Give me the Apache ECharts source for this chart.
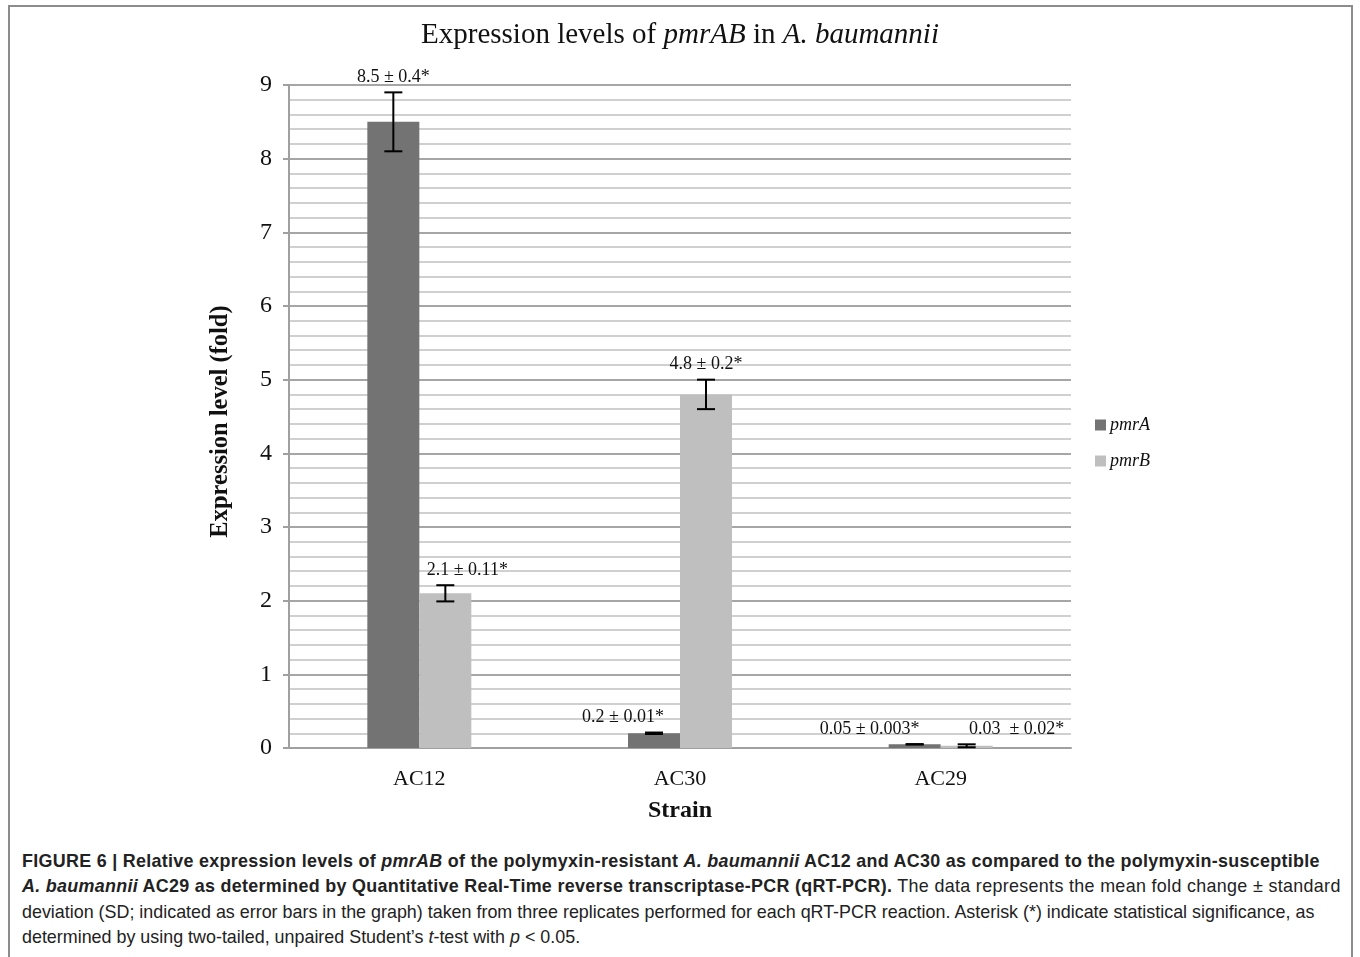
<!DOCTYPE html>
<html>
<head>
<meta charset="utf-8">
<script src="https://cdn.jsdelivr.net/npm/echarts@6/dist/echarts.min.js"></script>
<style>
  html, body { margin: 0; padding: 0; width: 1360px; height: 957px; overflow: hidden; background: #fff; }
  #frame { position: absolute; left: 8px; top: 5px; width: 1345px; height: 1000px; border: 2px solid #8c8c8c; box-sizing: border-box; }
  #chart { position: absolute; left: 0; top: 0; width: 1360px; height: 845px; }
  #caption { position: absolute; left: 22px; top: 849px; width: 1330px; font-family: "Liberation Sans", Arial, sans-serif; font-size: 17.9px; line-height: 25.3px; color: #222; white-space: nowrap; }
  #caption b { font-weight: bold; letter-spacing: 0.3px; }
  #caption .w { letter-spacing: 0.33px; }
</style>
</head>
<body>
<div id="frame"></div>
<div id="chart"></div>
<div id="caption">
<b>FIGURE 6 | Relative expression levels of <i>pmrAB</i> of the polymyxin-resistant <i>A. baumannii</i> AC12 and AC30 as compared to the polymyxin-susceptible</b><br>
<b><i>A. baumannii</i> AC29 as determined by Quantitative Real-Time reverse transcriptase-PCR (qRT-PCR).</b><span class="w"> The data represents the mean fold change ± standard</span><br>
deviation (SD; indicated as error bars in the graph) taken from three replicates performed for each qRT-PCR reaction. Asterisk (*) indicate statistical significance, as<br>
determined by using two-tailed, unpaired Student’s <i>t</i>-test with <i>p</i> &lt; 0.05.
</div>
<script>
// ---- data ----
const categories = ['AC12', 'AC30', 'AC29'];
const pmrA = [8.5, 0.2, 0.05];
const pmrB = [2.1, 4.8, 0.03];
const pmrAErr = [0.4, 0.01, 0.003];
const pmrBErr = [0.11, 0.2, 0.02];
const pmrALabels = ['8.5 ± 0.4*', '0.2 ± 0.01*', '0.05 ± 0.003*'];
const pmrBLabels = ['2.1 ± 0.11*', '4.8 ± 0.2*', '0.03  ± 0.02*'];

// ---- layout / style ----
const BAR_W = 52;
const CAP_W = 18;
// horizontal nudge of each value label (px) relative to its bar centre
const pmrANudge = [0, -31, -45];
const pmrBNudge = [22, 0, 50];
const LABEL_GAP = 15;

const serif = '"Liberation Serif", "Times New Roman", serif';

function errorSeries(name, vals, errs, labels, nudges, side) {
  return {
    name: name,
    type: 'custom',
    clip: false,
    z: 5,
    silent: true,
    data: vals.map((v, i) => [i, v, errs[i]]),
    renderItem: function (params, api) {
      const idx = api.value(0);
      const v = api.value(1);
      const e = api.value(2);
      const c = api.coord([idx, v]);
      const x = c[0] + side * BAR_W / 2;
      const yTop = api.coord([idx, v + e])[1];
      const yBot = api.coord([idx, Math.max(v - e, 0)])[1];
      const st = { stroke: '#000', lineWidth: 2 };
      return {
        type: 'group',
        children: [
          { type: 'line', shape: { x1: x, y1: yTop, x2: x, y2: yBot }, style: st },
          { type: 'line', shape: { x1: x - CAP_W / 2, y1: yTop, x2: x + CAP_W / 2, y2: yTop }, style: st },
          { type: 'line', shape: { x1: x - CAP_W / 2, y1: yBot, x2: x + CAP_W / 2, y2: yBot }, style: st },
          { type: 'text', style: {
              x: x + nudges[params.dataIndex], y: yTop - LABEL_GAP,
              text: labels[params.dataIndex], fill: '#111',
              font: '18px ' + serif, align: 'center', verticalAlign: 'middle'
          } }
        ]
      };
    }
  };
}

const chart = echarts.init(document.getElementById('chart'), null, { renderer: 'canvas' });
chart.setOption({
  animation: false,
  backgroundColor: 'transparent',
  title: {
    left: 'center', top: 16,
    text: '{n|Expression levels of }{i|pmrAB}{n| in }{i|A. baumannii}',
    textStyle: {
      fontWeight: 'normal',
      rich: {
        n: { fontFamily: serif, fontSize: 29, color: '#111', fontWeight: 'normal' },
        i: { fontFamily: serif, fontSize: 29, color: '#111', fontWeight: 'normal', fontStyle: 'italic' }
      }
    }
  },
  legend: {
    orient: 'vertical', left: 1090, top: 411,
    itemWidth: 11, itemHeight: 11, itemGap: 18,
    icon: 'rect',
    data: ['pmrA', 'pmrB'],
    textStyle: { fontFamily: serif, fontSize: 18, fontStyle: 'italic', color: '#111', padding: [0, 0, 0, -1] }
  },
  grid: { left: 289, right: 289, top: 85, bottom: 97 },
  xAxis: {
    type: 'category', data: categories,
    name: 'Strain', nameLocation: 'middle', nameGap: 51,
    nameTextStyle: { fontFamily: serif, fontSize: 24, fontWeight: 'bold', color: '#111' },
    axisLine: { show: true, lineStyle: { color: '#a0a0a0', width: 2 } },
    axisTick: { show: false },
    axisLabel: { fontFamily: serif, fontSize: 22, color: '#111', margin: 20 }
  },
  yAxis: {
    type: 'value', min: 0, max: 9, interval: 1,
    name: 'Expression level (fold)', nameLocation: 'middle', nameGap: 56,
    nameTextStyle: { fontFamily: serif, fontSize: 24.5, fontWeight: 'bold', color: '#111', padding: [0, 0, 0, -10] },
    axisLine: { show: true, lineStyle: { color: '#a0a0a0', width: 2 } },
    axisTick: { show: true, length: 6, lineStyle: { color: '#a0a0a0', width: 2 } },
    axisLabel: { fontFamily: serif, fontSize: 24, color: '#111', margin: 17 },
    splitLine: { show: true, lineStyle: { color: '#a6a6a6', width: 2 } },
    minorTick: { show: false, splitNumber: 5 },
    minorSplitLine: { show: true, lineStyle: { color: '#d0d0d0', width: 2 } }
  },
  series: [
    { name: 'pmrA', type: 'bar', data: pmrA, barWidth: BAR_W, barGap: '0%', itemStyle: { color: '#737373' } },
    { name: 'pmrB', type: 'bar', data: pmrB, barWidth: BAR_W, barGap: '0%', itemStyle: { color: '#bfbfbf' } },
    errorSeries('pmrA err', pmrA, pmrAErr, pmrALabels, pmrANudge, -1),
    errorSeries('pmrB err', pmrB, pmrBErr, pmrBLabels, pmrBNudge, 1)
  ]
});
</script>
</body>
</html>
